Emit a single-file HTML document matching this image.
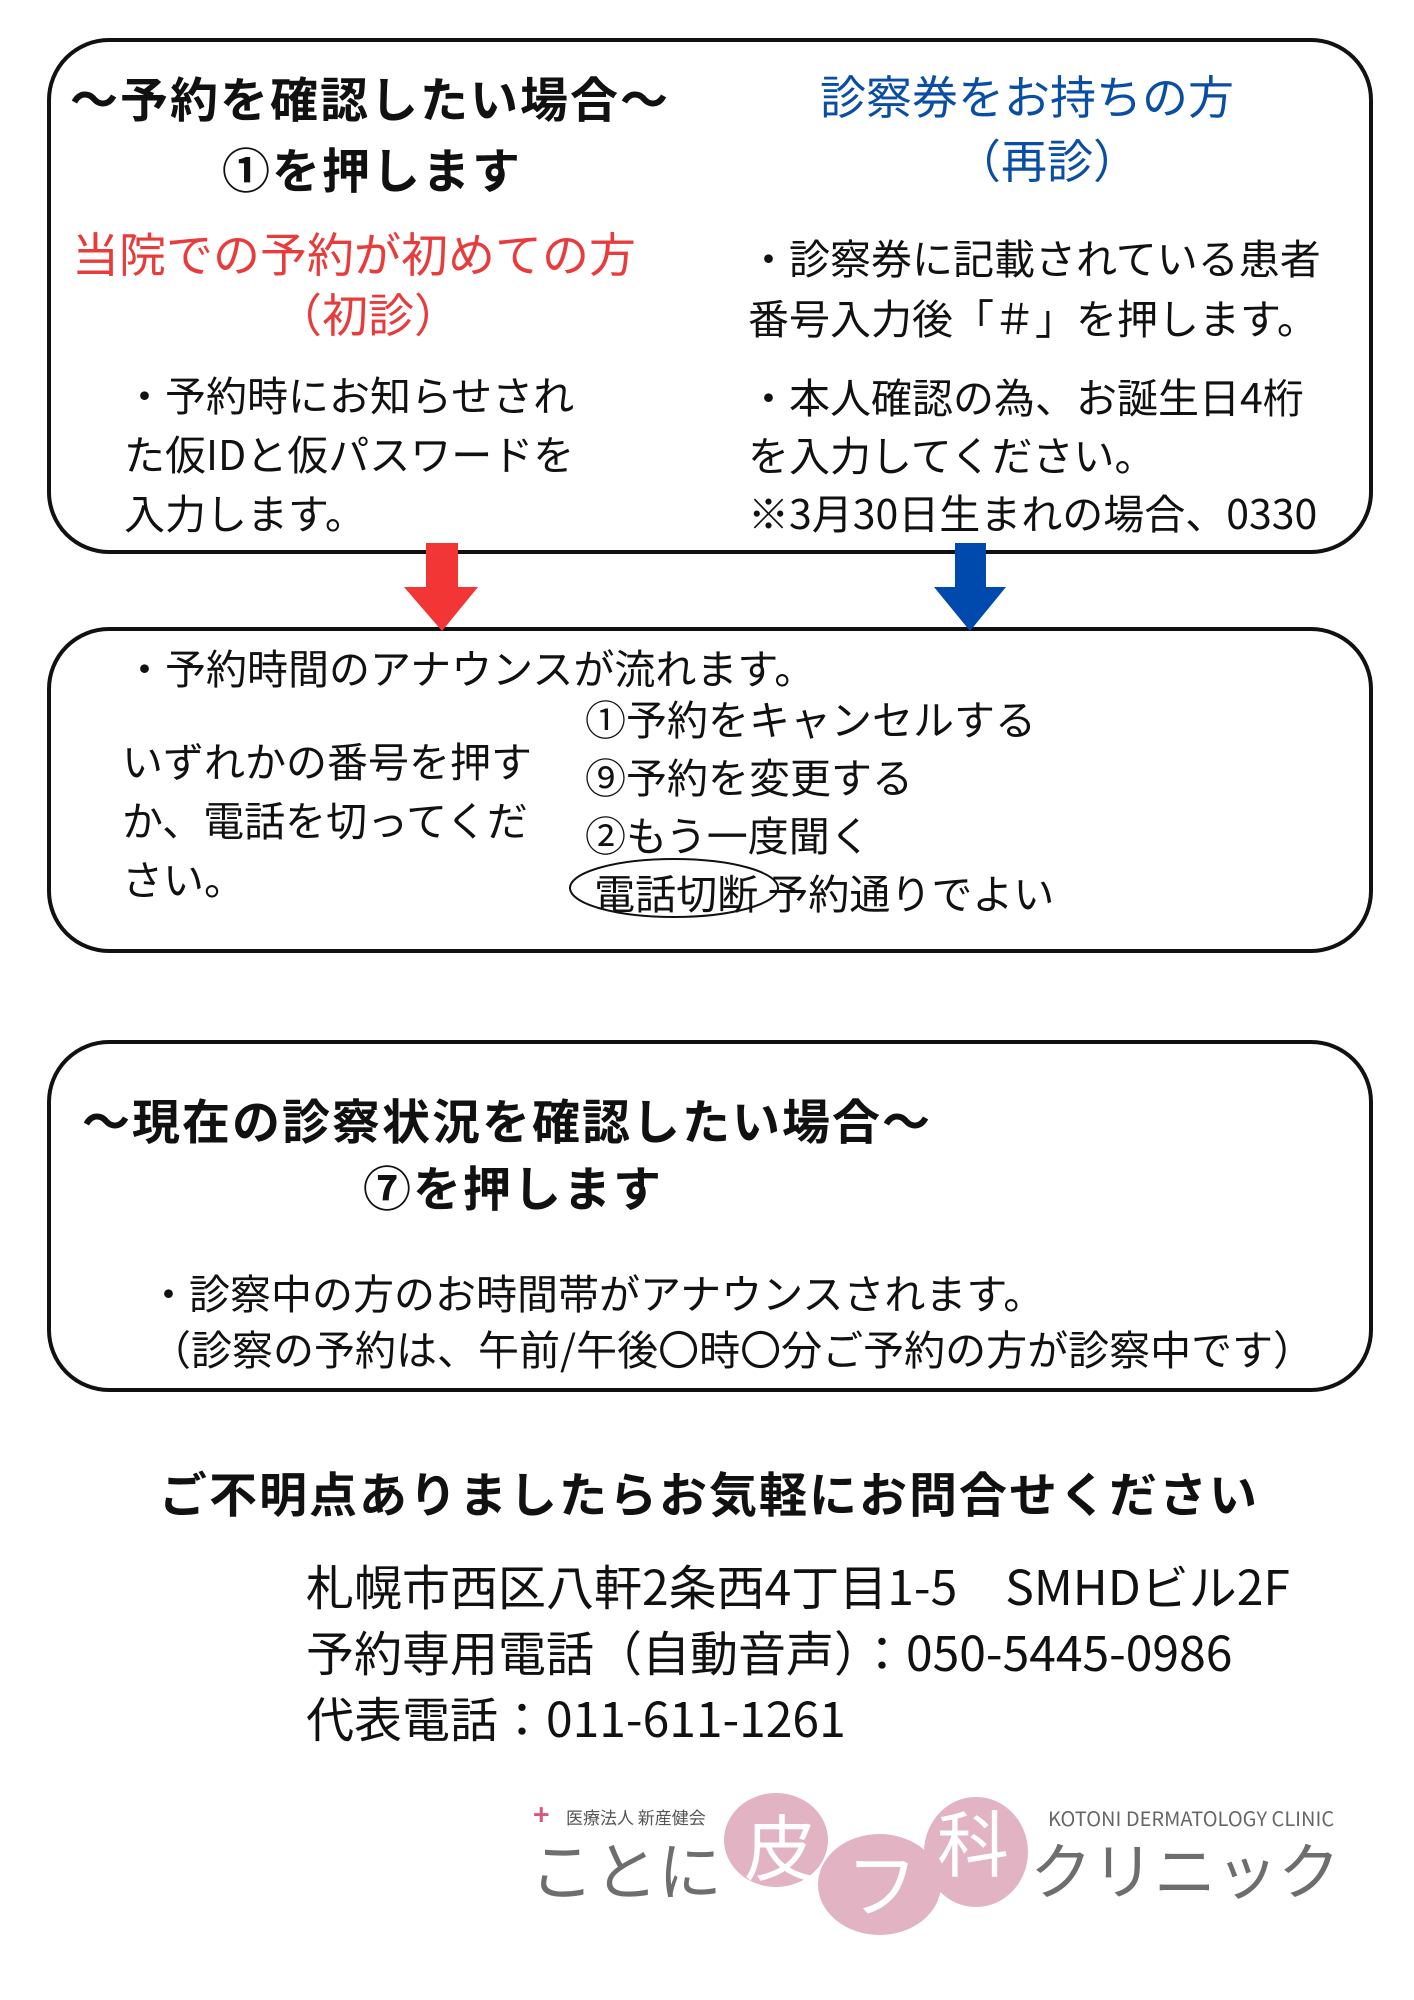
<!DOCTYPE html>
<html><head><meta charset="utf-8"><style>
body{margin:0;width:1414px;height:2000px;background:#fff;position:relative;overflow:hidden;font-family:"Noto Sans CJK JP","Liberation Sans",sans-serif;color:#111}
.t{position:absolute;white-space:nowrap;line-height:1}
.box{position:absolute;border:4px solid #111;border-radius:62px;box-sizing:border-box}
.b{font-weight:bold}
.c{position:absolute;border-radius:50%;background:#e2b3c3}
</style></head><body>
<div class="box" style="left:47px;top:38px;width:1326px;height:516px"></div>
<div class="box" style="left:47px;top:627px;width:1326px;height:326px"></div>
<div class="box" style="left:47px;top:1040px;width:1326px;height:352px"></div>

<svg style="position:absolute;left:0;top:0" width="1414" height="2000">
<polygon points="426,543 458,543 458,587 478,587 442,631 404,587 426,587" fill="#f23535"/>
<polygon points="955,543 986,543 986,587 1006,587 970,631 934,587 955,587" fill="#004aad"/>
<ellipse cx="674" cy="888" rx="104" ry="29" fill="none" stroke="#111" stroke-width="2"/>
</svg>

<div class="t b" style="left:70px;top:72px;font-size:48px;letter-spacing:2px">〜予約を確認したい場合〜</div>
<div class="t b" style="left:222px;top:143px;font-size:48px;letter-spacing:2px">①を押します</div>
<div class="t" style="left:820px;top:72px;font-size:46px;color:#0a4ea3">診察券をお持ちの方</div>
<div class="t" style="left:955px;top:136px;font-size:46px;color:#0a4ea3">（再診）</div>
<div class="t" style="left:72px;top:228px;font-size:47px;color:#e83c3c">当院での予約が初めての方</div>
<div class="t" style="left:276px;top:290px;font-size:46px;color:#e83c3c">（初診）</div>

<div class="t" style="left:124px;top:364px;font-size:41px;line-height:59px">・予約時にお知らせされ<br>た仮IDと仮パスワードを<br>入力します。</div>
<div class="t" style="left:748px;top:226px;font-size:41px;line-height:60px">・診察券に記載されている患者<br>番号入力後「＃」を押します。</div>
<div class="t" style="left:748px;top:366px;font-size:41px;line-height:58px">・本人確認の為、お誕生日4桁<br>を入力してください。<br>※3月30日生まれの場合、0330</div>

<div class="t" style="left:124px;top:646px;font-size:41px">・予約時間のアナウンスが流れます。</div>
<div class="t" style="left:122px;top:730px;font-size:41px;line-height:59px">いずれかの番号を押す<br>か、電話を切ってくだ<br>さい。</div>
<div class="t" style="left:585px;top:688px;font-size:41px;line-height:58px">①予約をキャンセルする<br>⑨予約を変更する<br>②もう一度聞く<br>&nbsp;電話切断&nbsp;予約通りでよい</div>

<div class="t b" style="left:82px;top:1094px;font-size:48px;letter-spacing:2px">〜現在の診察状況を確認したい場合〜</div>
<div class="t b" style="left:363px;top:1161px;font-size:48px;letter-spacing:2px">⑦を押します</div>
<div class="t" style="left:148px;top:1271px;font-size:41px">・診察中の方のお時間帯がアナウンスされます。</div>
<div class="t" style="left:150px;top:1327px;font-size:41px">（診察の予約は、午前/午後〇時〇分ご予約の方が診察中です）</div>

<div class="t b" style="left:159px;top:1467px;font-size:48px;letter-spacing:2px">ご不明点ありましたらお気軽にお問合せください</div>
<div class="t" style="left:306px;top:1551px;font-size:48px;line-height:66px">札幌市西区八軒2条西4丁目1-5　SMHDビル2F<br>予約専用電話（自動音声）：050-5445-0986<br>代表電話：011-611-1261</div>

<div class="c" style="left:724px;top:1793px;width:104px;height:94px"></div>
<div class="c" style="left:818px;top:1834px;width:123px;height:101px"></div>
<div class="c" style="left:924px;top:1797px;width:104px;height:110px"></div>
<div class="t" style="left:744px;top:1808px;font-size:72px;color:#fff">皮</div>
<div class="t" style="left:846px;top:1845px;font-size:72px;color:#fff">フ</div>
<div class="t" style="left:937px;top:1804px;font-size:72px;color:#fff">科</div>
<div class="t" style="left:530px;top:1836px;font-size:64px;color:#6e6e6e">ことに</div>
<div class="t" style="left:1030px;top:1836px;font-size:62px;color:#6e6e6e">クリニック</div>
<div class="t" style="left:1048px;top:1808px;font-size:20px;color:#666">KOTONI DERMATOLOGY CLINIC</div>
<div class="t" style="left:566px;top:1808px;font-size:17px;color:#555">医療法人 新産健会</div>
<div class="t" style="left:533px;top:1800px;font-size:28px;color:#d9577d;font-weight:bold">+</div>
</body></html>
